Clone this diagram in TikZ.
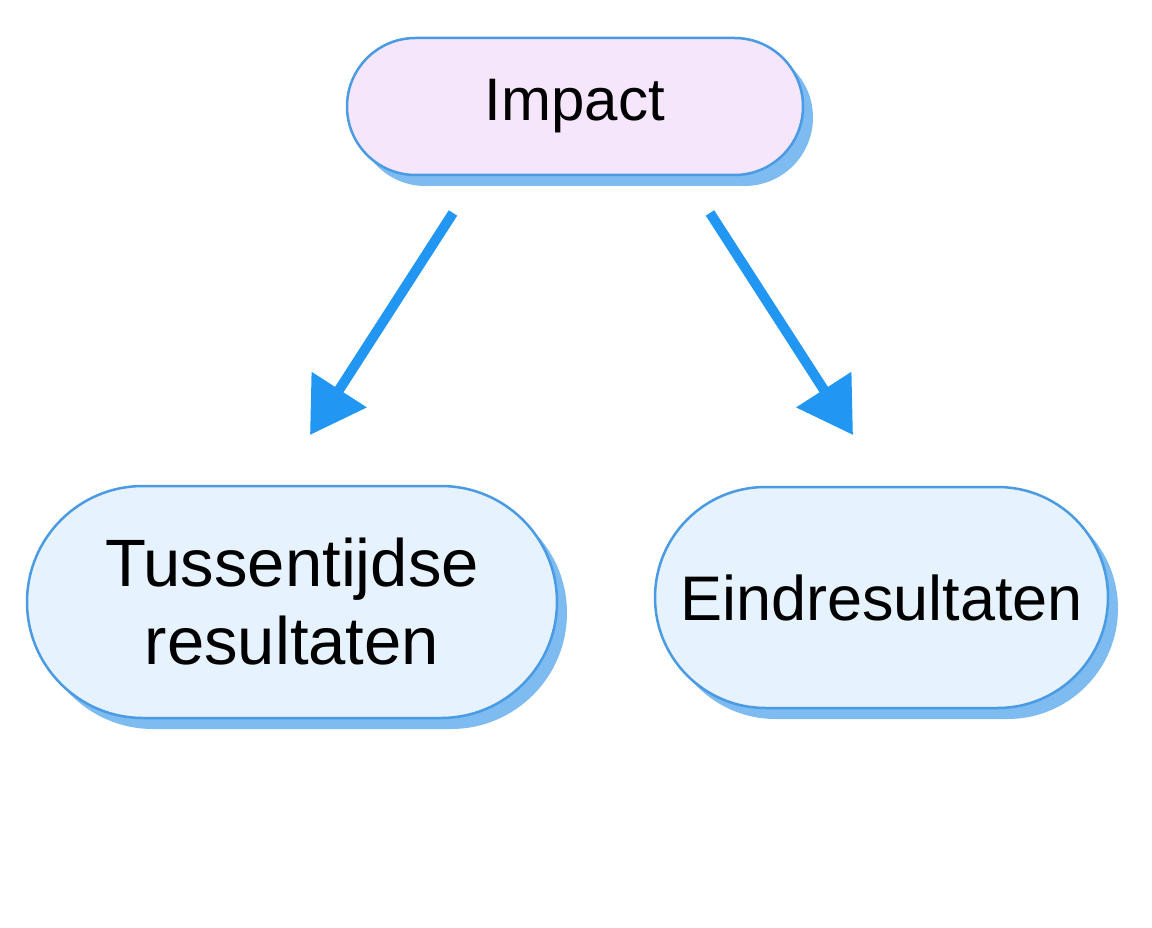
\documentclass[tikz,border=0pt]{standalone}
\usepackage{fontspec}
\setmainfont{Liberation Sans}
\usetikzlibrary{arrows.meta,shapes.misc,shadows}
\definecolor{edgeblue}{HTML}{4A9BE3}
\definecolor{shadowblue}{HTML}{7DBBF0}
\definecolor{pinkfill}{HTML}{F6E6FB}
\definecolor{bluefill}{HTML}{E6F2FD}
\definecolor{arrowblue}{HTML}{2196F3}
\tikzset{
  pill/.style={rounded rectangle, draw=edgeblue, line width=2.5pt, inner sep=0pt,
    align=center, text=black,
    drop shadow={shadow xshift=10pt, shadow yshift=-11pt, fill=shadowblue, opacity=1}},
  arr/.style={draw=arrowblue, line width=10pt,
    -{Triangle[length=54pt,width=63pt]}}
}
\begin{document}
\begin{tikzpicture}[x=1pt,y=-1pt]
\useasboundingbox[fill=white] (0,0) rectangle (1152,928);
\node[pill, fill=pinkfill, minimum width=456pt, minimum height=137pt,
  font=\fontsize{60}{72}\selectfont] (imp) at (575,106.5) {Impact};
\node[pill, fill=bluefill, minimum width=530pt, minimum height=232pt,
  font=\fontsize{67}{78}\selectfont] (tus) at (292,602) {Tussentijdse\\resultaten};
\node[pill, fill=bluefill, minimum width=453pt, minimum height=221pt,
  font=\fontsize{63}{75}\selectfont] (ein) at (881.5,597.5) {Eindresultaten};
\coordinate (s1) at (453,213);
\coordinate (e1) at (310,435);
\coordinate (s2) at (710,213);
\coordinate (e2) at (853,435);
\draw[arr] (s1) -- (e1);
\draw[arr] (s2) -- (e2);
\end{tikzpicture}
\end{document}
